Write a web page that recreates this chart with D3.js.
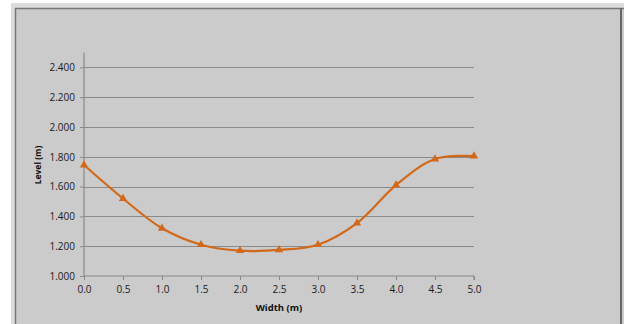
<!DOCTYPE html>
<html>
<head>
<meta charset="utf-8">
<script src="https://cdn.jsdelivr.net/npm/d3@7"></script>
<style>
  body { margin: 0; background: #fff; }
  svg { display: block; }
  .tick text { font-family: "Open Sans", sans-serif; font-size: 10px; fill: #1a1a1a; }
</style>
</head>
<body>
<div id="viz"></div>
<script>
var widths = [0.0, 0.5, 1.0, 1.5, 2.0, 2.5, 3.0, 3.5, 4.0, 4.5, 5.0],
  levels = [1.745, 1.52, 1.32, 1.21, 1.17, 1.175, 1.21, 1.355, 1.61, 1.785, 1.805],
  yTicks = [1.0, 1.2, 1.4, 1.6, 1.8, 2.0, 2.2, 2.4],
  xTicks = [0.0, 0.5, 1.0, 1.5, 2.0, 2.5, 3.0, 3.5, 4.0, 4.5, 5.0]

var W = 624, H = 324,
  color = "#d2691a"

var svg = d3.select("#viz").append("svg").attr("width", W).attr("height", H)

// sheet frame
svg.append("rect").attr("x", 11).attr("y", 3).attr("width", W - 11).attr("height", H - 3).attr("fill", "#dcdcdc")
svg.append("rect").attr("x", 15).attr("y", 8).attr("width", W - 15).attr("height", H - 8).attr("fill", "#cbcbcb")
svg.append("line").attr("x1", 15.5).attr("x2", 15.5).attr("y1", 8).attr("y2", H).attr("stroke", "#777").attr("stroke-width", 1.5)
svg.append("line").attr("x1", 15).attr("x2", W).attr("y1", 8.5).attr("y2", 8.5).attr("stroke", "#777").attr("stroke-width", 1.5)
svg.append("line").attr("x1", 621).attr("x2", 621).attr("y1", 8).attr("y2", H).attr("stroke", "#666").attr("stroke-width", 2)

var x = d3.scaleLinear().domain([0, 5]).range([84, 474])
var y = d3.scaleLinear().domain([1.0, 2.5]).range([276, 52.5])

// gridlines
svg.append("g").selectAll("line")
  .data(yTicks.slice(1))
  .enter().append("line")
  .attr("x1", x(0)).attr("x2", x(5))
  .attr("y1", function(d) { return Math.round(y(d)) + 0.5 })
  .attr("y2", function(d) { return Math.round(y(d)) + 0.5 })
  .attr("stroke", "#8a8a8a").attr("stroke-width", 1.2)

var yAxis = svg.append("g").attr("transform", "translate(" + x(0) + ",0)")
  .call(d3.axisLeft(y).tickValues(yTicks).tickFormat(d3.format(".3f")).tickSize(4).tickPadding(5))
var xAxis = svg.append("g").attr("transform", "translate(0," + y(1.0) + ")")
  .call(d3.axisBottom(x).tickValues(xTicks).tickFormat(d3.format(".1f")).tickSize(4).tickPadding(6))
svg.selectAll(".domain").attr("stroke", "#8a8a8a").attr("stroke-width", 1.2)
svg.selectAll(".tick line").attr("stroke", "#8a8a8a")
yAxis.select(".domain").attr("d", "M0," + y(2.5) + "V" + y(1.0))
xAxis.select(".domain").attr("d", "M" + x(0) + ",0H" + x(5) + "M" + x(5) + ",0V4")

svg.append("text").attr("x", 279).attr("y", 311).attr("text-anchor", "middle")
  .style("font-family", "Open Sans, sans-serif").style("font-size", "9.5px").style("font-weight", "bold").attr("fill", "#111")
  .text("Width (m)")
svg.append("text").attr("transform", "translate(40.5,165) rotate(-90)").attr("text-anchor", "middle")
  .style("font-family", "Open Sans, sans-serif").style("font-size", "8.5px").style("font-weight", "bold").attr("fill", "#111")
  .text("Level (m)")

var pts = widths.map(function(w, i) { return [w, levels[i]] })

var line = d3.line()
  .x(function(d) { return x(d[0]) })
  .y(function(d) { return y(d[1]) })
  .curve(d3.curveCatmullRom.alpha(0.5))

svg.append("path").datum(pts).attr("d", line)
  .attr("fill", "none").attr("stroke", color).attr("stroke-width", 2.2)

svg.append("g").selectAll("path")
  .data(pts)
  .enter().append("path")
  .attr("d", d3.symbol().type(d3.symbolTriangle).size(30))
  .attr("transform", function(d) { return "translate(" + x(d[0]) + "," + y(d[1]) + ")" })
  .attr("fill", color)
</script>
</body>
</html>
